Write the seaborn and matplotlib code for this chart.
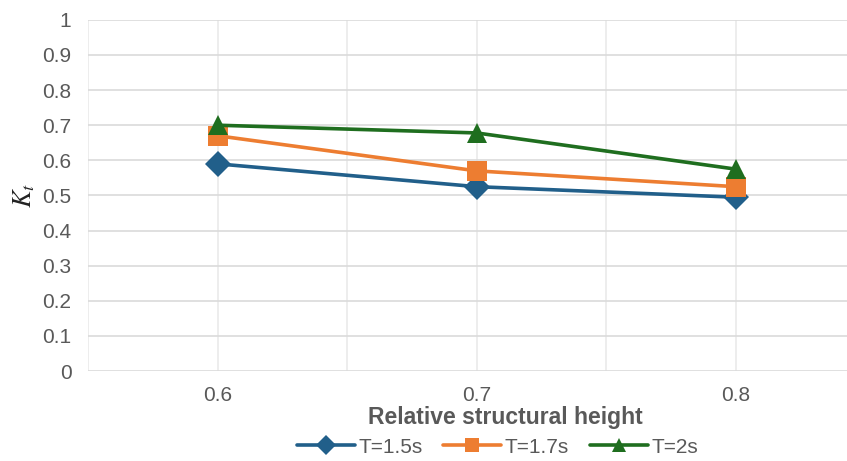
import numpy as np
import pandas as pd
import matplotlib
matplotlib.use("Agg")
import matplotlib.pyplot as plt
import seaborn as sns

# values
heights = [0.6, 0.7, 0.8]
kt_15 = [0.59, 0.525, 0.495]
kt_17 = [0.67, 0.57, 0.525]
kt_20 = [0.70, 0.678, 0.575]
series = ["T=1.5s", "T=1.7s", "T=2s"]

df = pd.DataFrame({
    "height": heights * 3,
    "Kt": kt_15 + kt_17 + kt_20,
    "series": [s for s in series for _ in heights],
})

sns.set_style("white")
plt.rcParams["font.family"] = ["Liberation Sans", "DejaVu Sans"]
plt.rcParams["mathtext.fontset"] = "stix"

fig = plt.figure(figsize=(8.47, 4.61), dpi=100)
ax = fig.add_axes([0.104, 0.195, 0.896, 0.762])

palette = {"T=1.5s": "#215F8A", "T=1.7s": "#ED7D31", "T=2s": "#1F6E1F"}
markers = {"T=1.5s": "D", "T=1.7s": "s", "T=2s": "^"}
sizes = {"T=1.5s": 13, "T=1.7s": 14, "T=2s": 15}

sns.lineplot(data=df, x="height", y="Kt", hue="series", style="series",
             palette=palette, markers=markers, dashes=False, lw=2.6,
             markersize=12, markeredgewidth=0, ax=ax, legend=False, zorder=3)
for line, s in zip(ax.lines, series):
    line.set_markersize(sizes[s])

ax.set_xlim(0.55, 0.843)
ax.set_ylim(0, 1)
ax.set_xticks(heights)
ax.set_xticklabels(["0.6", "0.7", "0.8"])
ax.set_xticks([0.55, 0.65, 0.75], minor=True)
ax.set_yticks(np.arange(0, 1.01, 0.1))
ax.set_yticklabels(["0", "0.1", "0.2", "0.3", "0.4", "0.5", "0.6", "0.7", "0.8", "0.9", "1"])
ax.grid(True, axis="y", color="#DADADA", lw=1.2, zorder=0)
ax.grid(True, axis="x", which="both", color="#EAEAEA", lw=1.2, zorder=0)
ax.tick_params(axis="both", which="both", length=0, labelsize=15, labelcolor="#595959")
ax.tick_params(axis="x", pad=11)
ax.tick_params(axis="y", pad=12)
for sp in ax.spines.values():
    sp.set_visible(False)

ax.set_xlabel("Relative structural height", fontsize=16.5, fontweight="bold",
              color="#595959", labelpad=0)
ax.xaxis.set_label_coords(0.55, -0.10)
ax.set_ylabel("$K_t$", fontsize=19, color="#222222", labelpad=4)

handles = [plt.Line2D([], [], color=palette[s], marker=markers[s], lw=2.6,
                      markersize=10, markeredgewidth=0) for s in series]
fig.legend(handles, series, loc="center", bbox_to_anchor=(0.587, 0.03), ncol=3,
           frameon=False, fontsize=15, handlelength=2.8, handletextpad=0.15,
           columnspacing=1.0, labelcolor="#595959")

fig.savefig("out.png", dpi=100)
